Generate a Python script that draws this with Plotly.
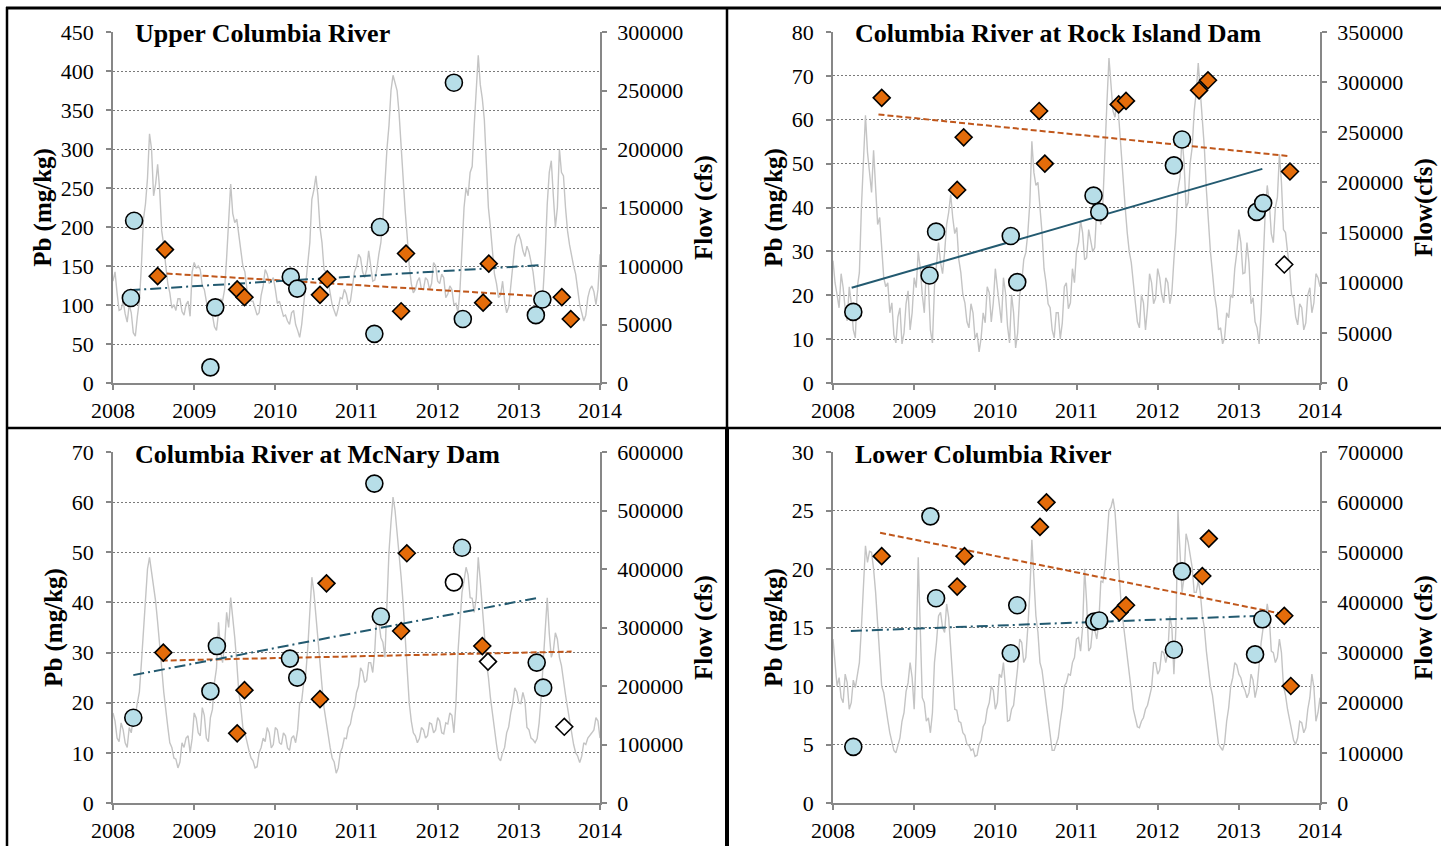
import plotly.graph_objects as go

W, H = 1441, 846

# ---------------- data ----------------
# flow, thousands of cfs:
# *_flow_kcfs at 2008.00, 2008.05, ... ; *_flow_mid_kcfs at 2008.025, 2008.075, ...
flow_years = [round(2008 + 0.05 * i, 3) for i in range(121)]
flow_mid_years = [round(2008.025 + 0.05 * i, 3) for i in range(120)]

upper_flow_kcfs = [87, 77, 63, 59, 67, 43, 57, 100, 153, 213, 160, 187, 130, 100, 77, 67, 72, 61, 67, 57,
                   103, 100, 83, 70, 60, 48, 60, 70, 107, 170, 137, 127, 100, 80, 70, 63, 60, 83, 93, 87,
                   80, 70, 57, 53, 60, 50, 39, 67, 97, 157, 177, 133, 97, 87, 67, 57, 73, 80, 67, 83,
                   100, 107, 90, 113, 87, 97, 120, 173, 220, 263, 250, 200, 147, 100, 77, 87, 80, 90, 80, 103,
                   87, 93, 73, 83, 67, 60, 113, 167, 180, 220, 280, 243, 187, 133, 93, 73, 87, 60, 83, 117,
                   127, 113, 117, 103, 80, 60, 80, 153, 190, 133, 200, 177, 130, 107, 93, 67, 53, 73, 83, 67,
                   110]
upper_flow_mid_kcfs = [95, 62, 70, 52, 60, 40, 70, 140, 175, 200, 170, 165, 118, 85, 64, 62, 72, 58, 70, 95,
                       98, 97, 80, 62, 58, 45, 72, 80, 140, 145, 140, 110, 95, 72, 70, 58, 75, 97, 85, 90,
                       68, 62, 58, 50, 62, 45, 50, 80, 120, 165, 160, 120, 95, 75, 62, 64, 72, 76, 70, 95,
                       110, 95, 97, 100, 88, 110, 140, 200, 250, 255, 230, 170, 125, 85, 80, 90, 80, 88, 85, 100,
                       85, 90, 76, 80, 68, 80, 150, 160, 185, 250, 255, 225, 150, 110, 85, 75, 70, 65, 100, 125,
                       122, 108, 112, 95, 70, 62, 110, 180, 160, 150, 180, 150, 118, 100, 80, 60, 58, 80, 78, 80]

rock_flow_kcfs = [122, 88, 109, 74, 96, 53, 96, 175, 267, 210, 232, 158, 131, 96, 70, 48, 66, 39, 79, 53,
                  105, 131, 88, 114, 53, 96, 140, 109, 158, 188, 149, 123, 88, 61, 79, 44, 31, 70, 96, 61,
                  114, 74, 105, 57, 88, 35, 88, 123, 149, 241, 197, 175, 114, 79, 53, 70, 44, 96, 74, 114,
                  131, 162, 123, 153, 131, 175, 158, 241, 324, 271, 284, 228, 175, 131, 96, 61, 88, 53, 109, 79,
                  114, 88, 105, 79, 123, 193, 245, 175, 219, 271, 319, 254, 193, 131, 88, 53, 39, 70, 88, 114,
                  153, 109, 140, 79, 61, 39, 131, 197, 149, 175, 228, 153, 131, 88, 66, 79, 53, 88, 70, 109,
                  96]
rock_flow_mid_kcfs = [100, 75, 95, 62, 80, 45, 110, 215, 230, 190, 200, 165, 105, 100, 80, 40, 75, 50, 92, 70,
                      95, 115, 70, 100, 40, 115, 120, 130, 170, 165, 155, 110, 80, 55, 70, 50, 45, 60, 90, 80,
                      95, 60, 90, 40, 70, 50, 100, 130, 180, 210, 200, 150, 100, 75, 45, 70, 60, 100, 80, 100,
                      140, 150, 125, 140, 135, 170, 180, 280, 300, 265, 260, 205, 150, 120, 80, 55, 80, 75, 100, 85,
                      105, 80, 100, 90, 150, 205, 220, 180, 235, 290, 290, 235, 160, 110, 75, 55, 45, 65, 85, 130,
                      140, 110, 120, 85, 55, 70, 170, 180, 140, 185, 200, 150, 115, 85, 58, 75, 60, 95, 80, 105]

mcnary_flow_kcfs = [154, 111, 137, 103, 129, 146, 171, 240, 360, 420, 369, 309, 231, 154, 103, 77, 60, 103, 111, 86,
                    154, 120, 163, 111, 146, 206, 309, 240, 326, 351, 283, 189, 129, 103, 77, 60, 86, 111, 129, 94,
                    129, 103, 120, 94, 111, 103, 171, 206, 266, 386, 317, 231, 163, 111, 77, 51, 86, 111, 129, 154,
                    189, 231, 206, 240, 223, 326, 283, 249, 429, 523, 463, 386, 283, 171, 120, 103, 129, 111, 137, 120,
                    146, 120, 137, 154, 120, 257, 360, 403, 351, 326, 420, 326, 240, 180, 120, 77, 86, 120, 154, 197,
                    171, 189, 129, 111, 103, 137, 240, 351, 249, 291, 249, 206, 163, 120, 86, 69, 103, 111, 120, 146,
                    111]
mcnary_flow_mid_kcfs = [140, 105, 125, 95, 120, 150, 190, 300, 400, 395, 345, 275, 190, 130, 95, 75, 70, 95, 115, 110,
                        145, 115, 150, 105, 160, 230, 260, 270, 300, 320, 240, 165, 120, 90, 72, 62, 95, 105, 120, 100,
                        125, 100, 115, 90, 115, 125, 175, 220, 320, 360, 280, 200, 140, 95, 70, 60, 95, 110, 135, 165,
                        200, 225, 210, 240, 260, 310, 275, 330, 480, 500, 430, 340, 230, 140, 115, 110, 125, 115, 135, 125,
                        140, 118, 135, 150, 170, 310, 380, 390, 350, 350, 380, 290, 215, 150, 100, 72, 95, 130, 170, 190,
                        170, 175, 125, 108, 110, 180, 300, 290, 260, 280, 235, 185, 140, 100, 80, 80, 100, 115, 125, 140]

lower_flow_kcfs = [327, 233, 210, 257, 187, 245, 257, 350, 513, 502, 467, 350, 233, 187, 140, 105, 117, 163, 222, 280,
                   187, 490, 210, 163, 140, 280, 373, 350, 397, 303, 187, 163, 140, 117, 105, 93, 117, 152, 187, 233,
                   187, 257, 280, 163, 187, 233, 327, 280, 350, 525, 373, 280, 233, 163, 105, 117, 163, 233, 257, 280,
                   327, 303, 467, 303, 350, 327, 443, 467, 583, 607, 513, 397, 327, 257, 187, 152, 163, 187, 210, 280,
                   257, 303, 280, 373, 257, 583, 420, 537, 490, 420, 443, 373, 303, 233, 187, 117, 105, 163, 233, 280,
                   257, 233, 210, 257, 210, 280, 350, 397, 303, 280, 327, 233, 187, 140, 117, 163, 140, 187, 257, 163,
                   210]
lower_flow_mid_kcfs = [280, 250, 200, 240, 200, 230, 280, 430, 480, 500, 420, 300, 220, 165, 125, 100, 130, 180, 240, 250,
                       300, 350, 200, 170, 180, 320, 380, 340, 370, 250, 185, 160, 135, 115, 108, 95, 125, 160, 200, 225,
                       200, 250, 230, 165, 195, 270, 320, 290, 420, 460, 340, 265, 205, 135, 105, 130, 190, 240, 255, 290,
                       330, 350, 400, 310, 345, 360, 440, 520, 590, 580, 470, 360, 300, 225, 170, 150, 170, 195, 230, 280,
                       265, 300, 300, 350, 350, 500, 450, 520, 470, 420, 420, 350, 270, 215, 150, 112, 120, 190, 250, 275,
                       250, 225, 220, 245, 230, 320, 360, 370, 300, 290, 300, 215, 165, 125, 130, 160, 150, 210, 230, 180]

# Upper Columbia River
upper_circ_x = [2008.22, 2008.26, 2009.20, 2009.26, 2010.19, 2010.27, 2011.22, 2011.29, 2012.20, 2012.31, 2013.21, 2013.29]
upper_circ_y = [109, 208, 20, 97, 136, 121, 63, 200, 385, 82, 87, 107]
upper_dia_x = [2008.55, 2008.64, 2009.53, 2009.62, 2010.55, 2010.64, 2011.55, 2011.61, 2012.56, 2012.63, 2013.53, 2013.64]
upper_dia_y = [137, 171, 120, 110, 113, 133, 92, 166, 103, 153, 110, 82]
upper_open_circ_x, upper_open_circ_y = [], []
upper_open_dia_x, upper_open_dia_y = [], []
upper_trend_circ_x, upper_trend_circ_y = [2008.20, 2013.26], [119, 151]
upper_trend_dia_x, upper_trend_dia_y = [2008.55, 2013.63], [141, 109]

# Rock Island Dam
rock_circ_x = [2008.25, 2009.19, 2009.27, 2010.19, 2010.27, 2011.21, 2011.28, 2012.20, 2012.30, 2013.22, 2013.30]
rock_circ_y = [16.2, 24.5, 34.5, 33.5, 23, 42.7, 39, 49.6, 55.5, 39, 41]
rock_dia_x = [2008.60, 2009.53, 2009.61, 2010.54, 2010.61, 2011.52, 2011.61, 2012.51, 2012.62, 2013.63]
rock_dia_y = [65, 44, 56, 62, 50, 63.5, 64.3, 66.7, 69, 48.2]
rock_open_circ_x, rock_open_circ_y = [], []
rock_open_dia_x, rock_open_dia_y = [2013.56], [27]
rock_trend_circ_x, rock_trend_circ_y = [2008.23, 2013.29], [21.7, 48.8]
rock_trend_dia_x, rock_trend_dia_y = [2008.56, 2013.63], [61.2, 51.7]

# McNary Dam
mcnary_circ_x = [2008.25, 2009.20, 2009.28, 2010.18, 2010.27, 2011.22, 2011.30, 2012.30, 2013.22, 2013.30]
mcnary_circ_y = [17, 22.3, 31.3, 28.8, 25, 63.7, 37.2, 50.9, 28, 23]
mcnary_dia_x = [2008.62, 2009.53, 2009.62, 2010.55, 2010.63, 2011.55, 2011.62, 2012.55]
mcnary_dia_y = [30, 13.9, 22.5, 20.7, 43.8, 34.3, 49.8, 31.3]
mcnary_open_circ_x, mcnary_open_circ_y = [2012.20], [44]
mcnary_open_dia_x, mcnary_open_dia_y = [2012.62, 2013.56], [28.2, 15.2]
mcnary_trend_circ_x, mcnary_trend_circ_y = [2008.25, 2013.26], [25.5, 41]
mcnary_trend_dia_x, mcnary_trend_dia_y = [2008.60, 2013.65], [28.4, 30.2]

# Lower Columbia River
lower_circ_x = [2008.25, 2009.20, 2009.27, 2010.19, 2010.27, 2011.22, 2011.28, 2012.20, 2012.30, 2013.20, 2013.29]
lower_circ_y = [4.8, 24.5, 17.5, 12.8, 16.9, 15.5, 15.6, 13.1, 19.8, 12.7, 15.7]
lower_dia_x = [2008.60, 2009.53, 2009.62, 2010.55, 2010.63, 2011.53, 2011.61, 2012.55, 2012.63, 2013.56, 2013.64]
lower_dia_y = [21.1, 18.5, 21.1, 23.6, 25.7, 16.3, 16.9, 19.4, 22.6, 16.0, 10.0]
lower_open_circ_x, lower_open_circ_y = [], []
lower_open_dia_x, lower_open_dia_y = [], []
lower_trend_circ_x, lower_trend_circ_y = [2008.22, 2013.27], [14.7, 16.0]
lower_trend_dia_x, lower_trend_dia_y = [2008.58, 2013.58], [23.1, 16.1]

titles = ["Upper Columbia River", "Columbia River at Rock Island Dam",
          "Columbia River at McNary Dam", "Lower Columbia River"]
flow_titles = ["Flow (cfs)", "Flow(cfs)", "Flow (cfs)", "Flow (cfs)"]
pb_max = [450, 80, 70, 30]
pb_dtick = [50, 10, 10, 5]
flow_max = [300000, 350000, 600000, 700000]
flow_dtick = [50000, 50000, 100000, 100000]

# ---------------- styling ----------------
FONT = "Liberation Serif"
AX = "#878787"
GREY_LINE = "#c4c4c4"
CIRC_FILL = "#b7dee8"
DIA_FILL = "#e46c0a"
BLUE_TREND = "#235a70"
ORANGE_TREND = "#c0571b"


def merged(main, mid):
    xs, ys = [], []
    for j in range(len(mid)):
        xs += [flow_years[j], flow_mid_years[j]]
        ys += [main[j] * 1000, mid[j] * 1000]
    xs.append(flow_years[-1])
    ys.append(main[-1] * 1000)
    return xs, ys


panels = [
    dict(flow=(upper_flow_kcfs, upper_flow_mid_kcfs), cx=upper_circ_x, cy=upper_circ_y, dx=upper_dia_x,
         dy=upper_dia_y, ocx=upper_open_circ_x, ocy=upper_open_circ_y, odx=upper_open_dia_x,
         ody=upper_open_dia_y, tcx=upper_trend_circ_x, tcy=upper_trend_circ_y, tdx=upper_trend_dia_x,
         tdy=upper_trend_dia_y, cdash="11px,4px,2px,4px"),
    dict(flow=(rock_flow_kcfs, rock_flow_mid_kcfs), cx=rock_circ_x, cy=rock_circ_y, dx=rock_dia_x,
         dy=rock_dia_y, ocx=rock_open_circ_x, ocy=rock_open_circ_y, odx=rock_open_dia_x,
         ody=rock_open_dia_y, tcx=rock_trend_circ_x, tcy=rock_trend_circ_y, tdx=rock_trend_dia_x,
         tdy=rock_trend_dia_y, cdash="solid"),
    dict(flow=(mcnary_flow_kcfs, mcnary_flow_mid_kcfs), cx=mcnary_circ_x, cy=mcnary_circ_y, dx=mcnary_dia_x,
         dy=mcnary_dia_y, ocx=mcnary_open_circ_x, ocy=mcnary_open_circ_y, odx=mcnary_open_dia_x,
         ody=mcnary_open_dia_y, tcx=mcnary_trend_circ_x, tcy=mcnary_trend_circ_y, tdx=mcnary_trend_dia_x,
         tdy=mcnary_trend_dia_y, cdash="11px,4px,2px,4px"),
    dict(flow=(lower_flow_kcfs, lower_flow_mid_kcfs), cx=lower_circ_x, cy=lower_circ_y, dx=lower_dia_x,
         dy=lower_dia_y, ocx=lower_open_circ_x, ocy=lower_open_circ_y, odx=lower_open_dia_x,
         ody=lower_open_dia_y, tcx=lower_trend_circ_x, tcy=lower_trend_circ_y, tdx=lower_trend_dia_x,
         tdy=lower_trend_dia_y, cdash="11px,4px,2px,4px"),
]

# pixel boxes of plot areas (x0, x1, ytop, ybottom)
boxes = [(113, 600, 32, 383), (833, 1320, 32, 383), (113, 600, 452, 803), (833, 1320, 452, 803)]


def px(x):
    return x / W


def py(y):
    return 1 - y / H


fig = go.Figure()
layout = dict(width=W, height=H, margin=dict(l=0, r=0, t=0, b=0, pad=0, autoexpand=False),
              paper_bgcolor="white", plot_bgcolor="rgba(0,0,0,0)",
              showlegend=False, font=dict(family=FONT, color="black"))
annotations = []
shapes = []

for i, p in enumerate(panels):
    k = i + 1
    xa = "x" if k == 1 else f"x{k}"
    yf = "y" if k == 1 else f"y{2 * k - 1}"
    yp = f"y{2 * k}"
    x0, x1, yt, yb = boxes[i]
    tickfont = dict(family=FONT, size=22, color="black")
    titlefont = dict(family=FONT, size=25, color="black")

    layout["xaxis" if k == 1 else f"xaxis{k}"] = dict(
        domain=[px(x0), px(x1)], anchor=yf, range=[2008, 2014], tick0=2008, dtick=1,
        showline=True, linecolor=AX, linewidth=1.5, ticks="outside", ticklen=5, tickcolor=AX,
        tickwidth=1.5, showgrid=False, zeroline=False, tickfont=tickfont, ticklabelstandoff=2,
        automargin=False)
    layout["yaxis" if k == 1 else f"yaxis{2 * k - 1}"] = dict(
        domain=[py(yb), py(yt)], anchor=xa, side="right", range=[0, flow_max[i]], dtick=flow_dtick[i],
        tickformat="d", showline=True, linecolor=AX, linewidth=1.5, ticks="outside", ticklen=5,
        tickcolor=AX, tickwidth=1.5, showgrid=False, zeroline=False, tickfont=tickfont,
        ticklabelstandoff=6, automargin=False,
        title=dict(text=f"<b>{flow_titles[i]}</b>", font=titlefont, standoff=12))
    layout[f"yaxis{2 * k}"] = dict(
        overlaying=yf, anchor=xa, side="left", range=[0, pb_max[i]], dtick=pb_dtick[i],
        showline=True, linecolor=AX, linewidth=1.5, ticks="outside", ticklen=5, tickcolor=AX,
        tickwidth=1.5, showgrid=True, gridcolor="#7a7a7a", gridwidth=1.3, griddash="2px,2px",
        zeroline=False, tickfont=tickfont, ticklabelstandoff=8, automargin=False,
        title=dict(text="<b>Pb (mg/kg)</b>", font=titlefont, standoff=2))

    fx, fy = merged(*p["flow"])
    # flow line
    fig.add_trace(go.Scatter(x=fx, y=fy, mode="lines",
                             line=dict(color=GREY_LINE, width=1.4), xaxis=xa, yaxis=yf,
                             hoverinfo="skip"))
    # trend lines
    fig.add_trace(go.Scatter(x=p["tdx"], y=p["tdy"], mode="lines",
                             line=dict(color=ORANGE_TREND, width=2, dash="6px,3px"),
                             xaxis=xa, yaxis=yp))
    fig.add_trace(go.Scatter(x=p["tcx"], y=p["tcy"], mode="lines",
                             line=dict(color=BLUE_TREND, width=2, dash=p["cdash"]),
                             xaxis=xa, yaxis=yp))
    # markers
    fig.add_trace(go.Scatter(x=p["cx"], y=p["cy"], mode="markers", xaxis=xa, yaxis=yp,
                             marker=dict(symbol="circle", size=17, color=CIRC_FILL,
                                         line=dict(color="black", width=1.6))))
    fig.add_trace(go.Scatter(x=p["ocx"], y=p["ocy"], mode="markers", xaxis=xa, yaxis=yp,
                             marker=dict(symbol="circle", size=17, color="white",
                                         line=dict(color="black", width=1.6))))
    fig.add_trace(go.Scatter(x=p["dx"], y=p["dy"], mode="markers", xaxis=xa, yaxis=yp,
                             marker=dict(symbol="diamond", size=13, color=DIA_FILL,
                                         line=dict(color="black", width=1.6))))
    fig.add_trace(go.Scatter(x=p["odx"], y=p["ody"], mode="markers", xaxis=xa, yaxis=yp,
                             marker=dict(symbol="diamond", size=13, color="white",
                                         line=dict(color="black", width=1.6))))

    # panel title
    annotations.append(dict(text=f"<b>{titles[i]}</b>", x=px(x0 + 17), y=py(yt + 2),
                            xref="paper", yref="paper", xanchor="left", yanchor="middle",
                            showarrow=False, bgcolor="white", borderpad=4,
                            font=dict(family=FONT, size=26, color="black")))

# frame lines
def hline(y, xa_, xb_, w):
    shapes.append(dict(type="line", xref="paper", yref="paper", x0=px(xa_), x1=px(xb_),
                       y0=py(y), y1=py(y), line=dict(color="black", width=w)))


def vline(x, ya_, yb_, w):
    shapes.append(dict(type="line", xref="paper", yref="paper", x0=px(x), x1=px(x),
                       y0=py(ya_), y1=py(yb_), line=dict(color="black", width=w)))


hline(8, 6, W, 3)
hline(428, 6, W, 2.5)
vline(7, 7, H, 2.5)
vline(727, 7, 428, 2.5)
vline(727, 428, H, 4)

layout["annotations"] = annotations
layout["shapes"] = shapes
fig.update_layout(**layout)
fig.write_html("out.html")
